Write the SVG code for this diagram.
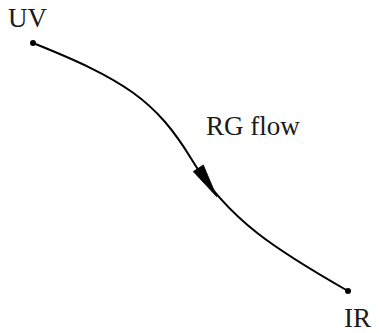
<svg xmlns="http://www.w3.org/2000/svg" width="379" height="333" viewBox="0 0 379 333">
  <style>
    text { font-family: 'Liberation Serif', 'Times New Roman', 'DejaVu Serif', serif; font-size: 27px; fill: #1a1a1a; }
    .dot { fill: #000; }
    .edge { fill: none; stroke: #000; stroke-width: 2; stroke-linecap: round; }
    .head { fill: #000; stroke: #000; stroke-width: 0.8; stroke-linejoin: miter; }
  </style>
  <rect width="379" height="333" fill="#fff"/>
  <g id="connectors">
    <path class="edge" d="M33,43 C123,79 156,100 192,160 C228,220 278,251 348,291"/>
    <polygon class="head" points="193.3,171.6 216.8,196.8 203.3,165"/>
    <text x="206" y="135">RG flow</text>
  </g>
  <g id="node-uv">
    <circle class="dot" cx="33" cy="43" r="3"/>
    <text x="8" y="27">UV</text>
  </g>
  <g id="node-ir">
    <circle class="dot" cx="348" cy="291" r="3"/>
    <text x="344" y="327">IR</text>
  </g>
</svg>
